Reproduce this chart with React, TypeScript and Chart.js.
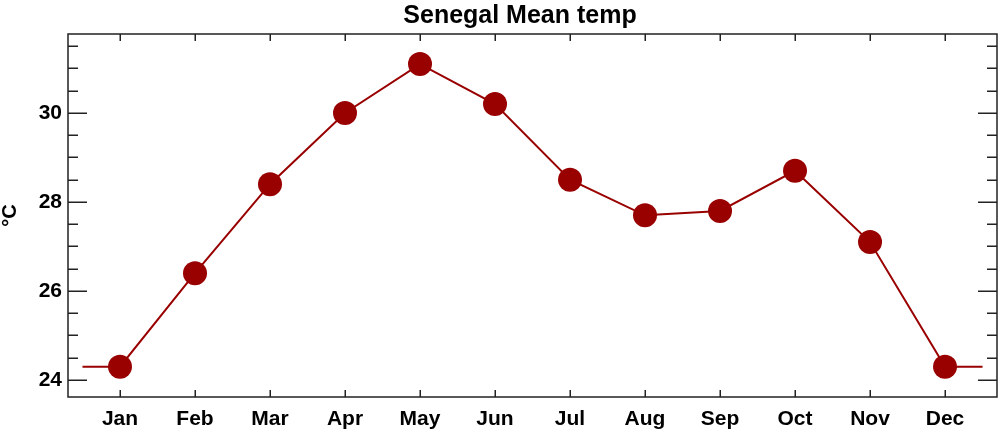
import React, { useEffect, useRef } from "react";
import { Chart, registerables } from "chart.js";

Chart.register(...registerables);

// ---- data ----
const months = ["Jan", "Feb", "Mar", "Apr", "May", "Jun", "Jul", "Aug", "Sep", "Oct", "Nov", "Dec"];
const monthPositions = [1, 2, 3, 4, 5, 6, 7, 8, 9, 10, 11, 12];
const meanTemp = [24.3, 26.4, 28.4, 30.0, 31.1, 30.2, 28.5, 27.7, 27.8, 28.7, 27.1, 24.3];
// the line wraps past the first and last month (Dec -> Jan)
const wrapPositions = [0.5, 12.5];
const wrapTemp = [24.3, 24.3];
const yMajorTicks = [24, 26, 28, 30];
const chartTitle = "Senegal Mean temp";
const yAxisTitle = "°C";

const FONT = '"Liberation Sans", Arial, Helvetica, sans-serif';
const RED = "#990000";

const framePlugin = {
  id: "frame",
  beforeDraw(chart: any) {
    const { ctx } = chart;
    ctx.save();
    ctx.fillStyle = "#ffffff";
    ctx.fillRect(0, 0, chart.width, chart.height);
    ctx.restore();
  },
  beforeDatasetsDraw(chart: any) {
    const { ctx, chartArea: a, scales } = chart;
    ctx.save();
    ctx.strokeStyle = "#222222";
    ctx.lineWidth = 1.5;
    ctx.lineCap = "butt";
    const ys = scales.y;
    ys.ticks.forEach((t: any) => {
      const py = Math.round(ys.getPixelForValue(t.value)) + 0.25;
      const len = yMajorTicks.includes(t.value) ? 19 : 10;
      ctx.beginPath();
      ctx.moveTo(a.left, py);
      ctx.lineTo(a.left + len, py);
      ctx.moveTo(a.right, py);
      ctx.lineTo(a.right - len, py);
      ctx.stroke();
    });
    const xs = scales.x;
    xs.ticks.forEach((t: any) => {
      const px = Math.round(xs.getPixelForValue(t.value)) + 0.25;
      ctx.beginPath();
      ctx.moveTo(px, a.top);
      ctx.lineTo(px, a.top + 7);
      ctx.moveTo(px, a.bottom);
      ctx.lineTo(px, a.bottom - 7);
      ctx.stroke();
    });
    ctx.strokeRect(a.left, a.top, a.right - a.left, a.bottom - a.top);
    ctx.restore();
  },
  afterDraw(chart: any) {
    const { ctx } = chart;
    ctx.save();
    ctx.fillStyle = "#000000";
    ctx.font = `bold 25px ${FONT}`;
    ctx.textAlign = "center";
    ctx.textBaseline = "alphabetic";
    ctx.fillText(chartTitle, 520, 23);
    ctx.restore();
  },
};

export default function App() {
  const ref = useRef<HTMLCanvasElement | null>(null);

  useEffect(() => {
    if (!ref.current) return;
    const points = [
      { x: wrapPositions[0], y: wrapTemp[0] },
      ...monthPositions.map((m, i) => ({ x: m, y: meanTemp[i] })),
      { x: wrapPositions[1], y: wrapTemp[1] },
    ];
    const lastIdx = points.length - 1;
    const chart = new Chart(ref.current, {
      type: "line",
      data: {
        datasets: [
          {
            data: points,
            borderColor: RED,
            backgroundColor: RED,
            borderWidth: 2,
            pointRadius: (c: any) => (c.dataIndex === 0 || c.dataIndex === lastIdx ? 0 : 12),
            pointHoverRadius: 0,
            pointBackgroundColor: RED,
            pointBorderColor: RED,
            pointBorderWidth: 0,
            tension: 0,
            fill: false,
            clip: false as any,
          },
        ],
      },
      options: {
        responsive: false,
        animation: false,
        devicePixelRatio: 1,
        events: [],
        layout: { padding: { top: 34, right: 3, left: 0, bottom: 0 } },
        plugins: {
          legend: { display: false },
          tooltip: { enabled: false },
          title: { display: false },
        },
        scales: {
          x: {
            type: "linear",
            min: 0.3067,
            max: 12.693,
            grid: { display: false, drawTicks: false },
            border: { display: false },
            afterFit: (s: any) => {
              s.height = 35;
            },
            ticks: {
              stepSize: 1,
              includeBounds: false,
              autoSkip: false,
              maxRotation: 0,
              padding: 10,
              color: "#000000",
              font: { family: FONT, size: 21, weight: "bold" },
              callback: (v: any) => months[Number(v) - 1] ?? "",
            },
          },
          y: {
            type: "linear",
            min: 23.618,
            max: 31.775,
            grid: { display: false, drawTicks: false },
            border: { display: false },
            afterFit: (s: any) => {
              s.width = 68;
            },
            title: {
              display: true,
              text: yAxisTitle,
              color: "#000000",
              padding: 0,
              font: { family: FONT, size: 20, weight: "bold", lineHeight: 1 },
            },
            ticks: {
              stepSize: 0.5,
              includeBounds: false,
              autoSkip: false,
              padding: 6,
              color: "#000000",
              font: { family: FONT, size: 21, weight: "bold" },
              callback: (v: any) => (yMajorTicks.includes(Number(v)) ? String(v) : ""),
            },
          },
        },
      },
      plugins: [framePlugin],
    } as any);
    return () => chart.destroy();
  }, []);

  return (
    <div style={{ position: "fixed", left: 0, top: 0, width: 1000, height: 432, background: "#fff" }}>
      <canvas ref={ref} width={1000} height={432} style={{ display: "block", width: 1000, height: 432 }} />
    </div>
  );
}
